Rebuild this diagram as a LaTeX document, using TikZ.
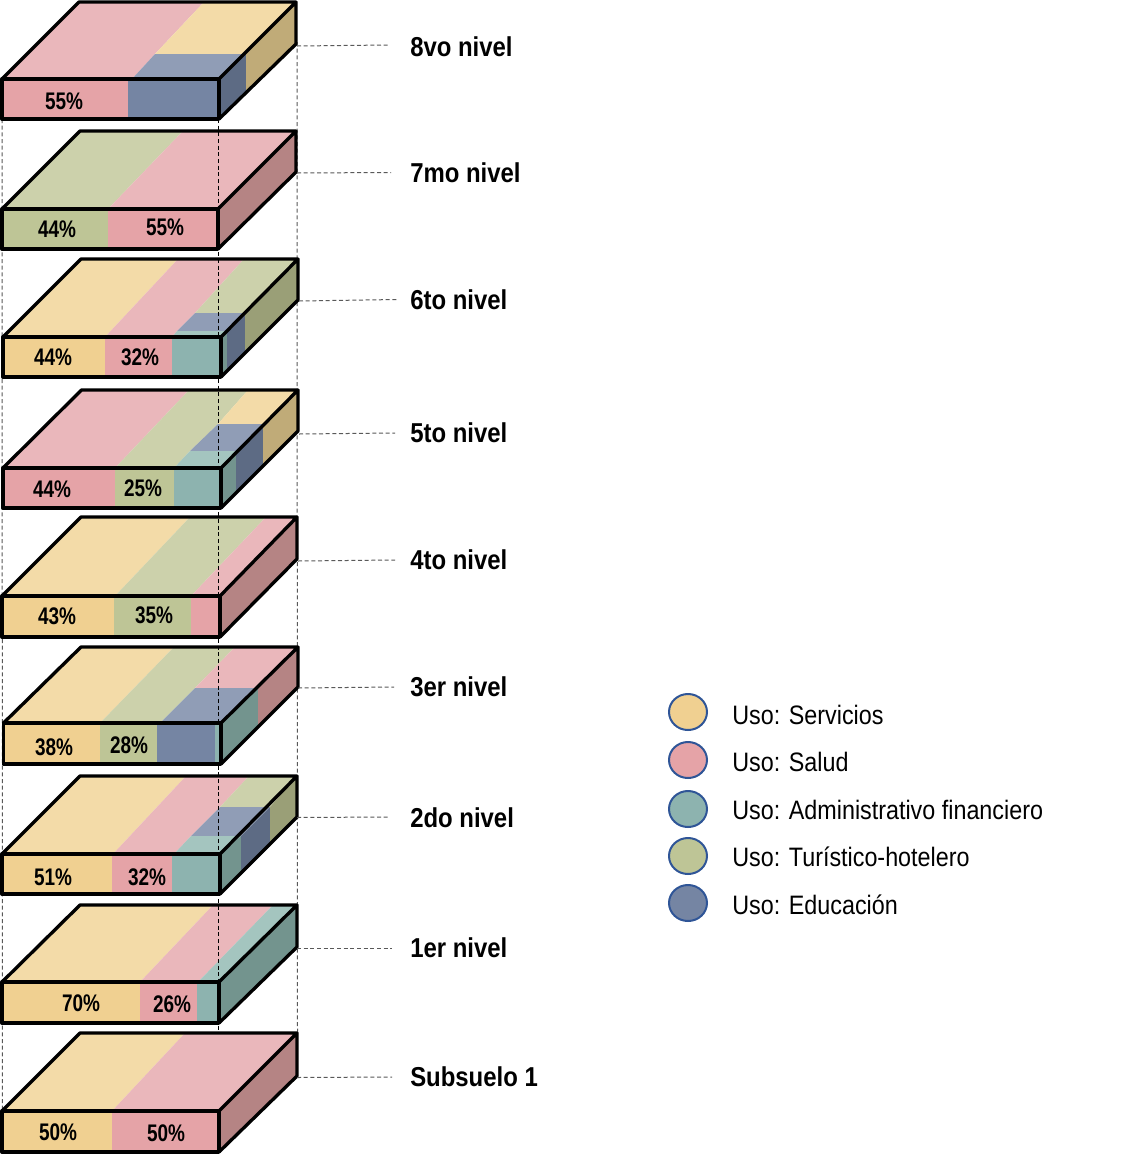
\documentclass[tikz,border=0pt]{standalone}
\usepackage{fontspec}
\setmainfont[FakeStretch=0.875]{Liberation Sans}
\newfontfamily\pctfont[FakeStretch=0.79]{Liberation Sans}
\definecolor{yF}{HTML}{F0D091}\definecolor{yT}{HTML}{F3DBA8}\definecolor{yS}{HTML}{C0AB78}
\definecolor{pF}{HTML}{E5A3A7}\definecolor{pT}{HTML}{EAB7BB}\definecolor{pS}{HTML}{B58484}
\definecolor{tF}{HTML}{8DB3AF}\definecolor{tT}{HTML}{A4C5BF}\definecolor{tS}{HTML}{73948E}
\definecolor{gF}{HTML}{BEC596}\definecolor{gT}{HTML}{CCD1AB}\definecolor{gS}{HTML}{9A9F77}
\definecolor{bF}{HTML}{7585A3}\definecolor{bT}{HTML}{909DB6}\definecolor{bS}{HTML}{5D6B84}
\definecolor{ringc}{HTML}{2F5597}
\tikzset{
  outl/.style={draw=black,line width=2.5pt,line join=round},
  guide/.style={draw=black!65,line width=0.75pt,dash pattern=on 3pt off 2pt},
  guidek/.style={draw=black,line width=0.75pt,dash pattern=on 3pt off 2pt},
  pct/.style={font=\fontsize{18pt}{20pt}\selectfont\pctfont\bfseries,inner sep=0pt},
  lvl/.style={font=\fontsize{20.5pt}{23pt}\selectfont\bfseries,inner sep=0pt,anchor=west},
  usetxt/.style={font=\fontsize{20pt}{23pt}\selectfont,inner sep=0pt,anchor=west},
  swatch/.style={ellipse,draw=ringc,line width=1.5pt,minimum width=28.5pt,minimum height=27pt,inner sep=0pt}
}
\usetikzlibrary{shapes.geometric}
% polygon fill
\newcommand{\pf}[2]{\fill[#1] #2 -- cycle;}
% outline of top and side: l r ft fb bl br bt sb
\newcommand{\topout}[8]{\draw[outl] (#1,#3) -- (#5,#7) -- (#6,#7) -- (#2,#3) (#6,#7) -- (#6,#8) -- (#2,#4);}
\newcommand{\frontout}[4]{\draw[outl] (#1,#3) rectangle (#2,#4);}
\begin{document}
\begin{tikzpicture}[x=0.75pt,y=-0.75pt]
\useasboundingbox (0,0) rectangle (1139,1161);
\fill[white] (0,0) rectangle (1139,1161);
% rear guides
\coordinate (gla) at (2,119); \coordinate (glb) at (2.5,1111);
\coordinate (gra) at (297,42); \coordinate (grb) at (297.5,1033);
\draw[guide] (gla) -- (glb);
\draw[guide] (gra) -- (grb);
% --- tops and sides ---
% 8vo
\pf{pT}{(2,79) -- (79,2) -- (204,2) -- (155,54) -- (132,79)}
\pf{yT}{(155,54) -- (204,2) -- (296,2) -- (243,54)}
\pf{bT}{(132,79) -- (155,54) -- (243,54) -- (219,79)}
\pf{bS}{(219,79) -- (246,52) -- (246,92) -- (219,119)}
\pf{yS}{(246,52) -- (296,2) -- (296,44) -- (246,92)}
\topout{2}{219}{79}{119}{79}{296}{2}{44}
% 7mo
\pf{gT}{(2,209) -- (80,131) -- (183,131) -- (108,209)}
\pf{pT}{(108,209) -- (183,131) -- (296,131) -- (218,209)}
\pf{pS}{(218,209) -- (296,131) -- (296,172) -- (218,249)}
\topout{2}{218}{209}{249}{80}{296}{131}{172}
% 6to
\pf{yT}{(3,337) -- (81,259) -- (178,259) -- (105,337)}
\pf{pT}{(105,337) -- (178,259) -- (244,259) -- (195,313) -- (177,331) -- (172,337)}
\pf{gT}{(195,313) -- (244,259) -- (298,259) -- (245,313)}
\pf{bT}{(177,331) -- (195,313) -- (245,313) -- (227,331)}
\pf{tT}{(172,337) -- (177,331) -- (227,331) -- (221,337)}
\pf{tS}{(221,337) -- (227,331) -- (227,371) -- (221,377)}
\pf{bS}{(227,331) -- (245,313) -- (245,353) -- (227,371)}
\pf{gS}{(245,313) -- (298,259) -- (298,300) -- (245,353)}
\topout{3}{221}{337}{377}{81}{298}{259}{300}
% 5to
\pf{pT}{(3,468) -- (81.5,390) -- (189,390) -- (115,468)}
\pf{gT}{(115,468) -- (189,390) -- (248,390) -- (218,424) -- (190,451) -- (174,468)}
\pf{yT}{(218,424) -- (248,390) -- (298,390) -- (263,424)}
\pf{bT}{(190,451) -- (218,424) -- (263,424) -- (236,451)}
\pf{tT}{(174,468) -- (190,451) -- (236,451) -- (221,468)}
\pf{tS}{(221,468) -- (236,451) -- (236,492) -- (221,508)}
\pf{bS}{(236,451) -- (263,424) -- (263,465) -- (236,492)}
\pf{yS}{(263,424) -- (298,390) -- (298,431) -- (263,465)}
\topout{3}{221}{468}{508}{81.5}{298}{390}{431}
% 4to
\pf{yT}{(2,596) -- (81,517) -- (190,517) -- (115,596)}
\pf{gT}{(115,596) -- (190,517) -- (266,517) -- (191,596)}
\pf{pT}{(191,596) -- (266,517) -- (297,517) -- (220,596)}
\pf{pS}{(220,596) -- (297,517) -- (297,559) -- (220,637)}
\topout{2}{220}{596}{637}{81}{297}{517}{559}
% 3er
\pf{yT}{(3.5,723) -- (81,647) -- (174,647) -- (100,723)}
\pf{gT}{(100,723) -- (174,647) -- (235,647) -- (195,688) -- (160,723)}
\pf{pT}{(195,688) -- (235,647) -- (298,647) -- (258,688)}
\pf{bT}{(160,723) -- (195,688) -- (258,688) -- (221,723)}
\pf{tS}{(221,723) -- (258,688) -- (258,727) -- (221,764)}
\pf{pS}{(258,688) -- (298,647) -- (298,687) -- (258,727)}
\topout{3.5}{221}{723}{764}{81}{298}{647}{687}
% 2do
\pf{yT}{(2,854) -- (80,776) -- (186,776) -- (113,854)}
\pf{pT}{(113,854) -- (186,776) -- (249,776) -- (220,807) -- (191,836) -- (174,854)}
\pf{gT}{(220,807) -- (249,776) -- (297,776) -- (270,807)}
\pf{bT}{(191,836) -- (220,807) -- (270,807) -- (241,836)}
\pf{tT}{(174,854) -- (191,836) -- (241,836) -- (220,854)}
\pf{tS}{(220,854) -- (241,836) -- (241,875) -- (220,894)}
\pf{bS}{(241,836) -- (270,807) -- (270,846) -- (241,875)}
\pf{gS}{(270,807) -- (297,776) -- (297,817) -- (270,846)}
\topout{2}{220}{854}{894}{80}{297}{776}{817}
% 1er
\pf{yT}{(2,982) -- (80,905) -- (213,905) -- (140,982)}
\pf{pT}{(140,982) -- (213,905) -- (273,905) -- (198,982)}
\pf{tT}{(198,982) -- (273,905) -- (297,905) -- (219,982)}
\pf{tS}{(219,982) -- (297,905) -- (297,947) -- (219,1023)}
\topout{2}{219}{982}{1023}{80}{297}{905}{947}
% Subsuelo
\pf{yT}{(2,1111) -- (80,1033) -- (185,1033) -- (112,1111)}
\pf{pT}{(112,1111) -- (185,1033) -- (297,1033) -- (219,1111)}
\pf{pS}{(219,1111) -- (297,1033) -- (297,1076) -- (219,1152)}
\topout{2}{219}{1111}{1152}{80}{297}{1033}{1076}
% guide over the top faces
\coordinate (gma) at (218.5,119); \coordinate (gmb) at (218.5,1033);
\draw[guidek] (gma) -- (gmb);
% --- fronts ---
\pf{pF}{(2,79) -- (128,79) -- (128,119) -- (2,119)}
\pf{bF}{(128,79) -- (219,79) -- (219,119) -- (128,119)}
\frontout{2}{219}{79}{119}
\pf{gF}{(2,209) -- (108,209) -- (108,249) -- (2,249)}
\pf{pF}{(108,209) -- (218,209) -- (218,249) -- (108,249)}
\frontout{2}{218}{209}{249}
\pf{yF}{(3,337) -- (105,337) -- (105,377) -- (3,377)}
\pf{pF}{(105,337) -- (172,337) -- (172,377) -- (105,377)}
\pf{tF}{(172,337) -- (221,337) -- (221,377) -- (172,377)}
\frontout{3}{221}{337}{377}
\pf{pF}{(3,468) -- (115,468) -- (115,508) -- (3,508)}
\pf{gF}{(115,468) -- (174,468) -- (174,508) -- (115,508)}
\pf{tF}{(174,468) -- (221,468) -- (221,508) -- (174,508)}
\frontout{3}{221}{468}{508}
\pf{yF}{(2,596) -- (114,596) -- (114,637) -- (2,637)}
\pf{gF}{(114,596) -- (190.5,596) -- (190.5,637) -- (114,637)}
\pf{pF}{(190.5,596) -- (220,596) -- (220,637) -- (190.5,637)}
\frontout{2}{220}{596}{637}
\pf{yF}{(3.5,723) -- (100,723) -- (100,764) -- (3.5,764)}
\pf{gF}{(100,723) -- (157,723) -- (157,764) -- (100,764)}
\pf{bF}{(157,723) -- (215,723) -- (215,764) -- (157,764)}
\pf{tF}{(215,723) -- (221,723) -- (221,764) -- (215,764)}
\frontout{3.5}{221}{723}{764}
\pf{yF}{(2,854) -- (112,854) -- (112,894) -- (2,894)}
\pf{pF}{(112,854) -- (172,854) -- (172,894) -- (112,894)}
\pf{tF}{(172,854) -- (220,854) -- (220,894) -- (172,894)}
\frontout{2}{220}{854}{894}
\pf{yF}{(2,982) -- (140,982) -- (140,1023) -- (2,1023)}
\pf{pF}{(140,982) -- (197,982) -- (197,1023) -- (140,1023)}
\pf{tF}{(197,982) -- (219,982) -- (219,1023) -- (197,1023)}
\frontout{2}{219}{982}{1023}
\pf{yF}{(2,1111) -- (112,1111) -- (112,1152) -- (2,1152)}
\pf{pF}{(112,1111) -- (219,1111) -- (219,1152) -- (112,1152)}
\frontout{2}{219}{1111}{1152}
% --- percentages ---
\node[pct] (p8a) at (64,101) {55\%};
\node[pct] (p7a) at (57,229) {44\%};
\node[pct] (p7b) at (165,227) {55\%};
\node[pct] (p6a) at (53,357) {44\%};
\node[pct] (p6b) at (140,357) {32\%};
\node[pct] (p5a) at (52,489) {44\%};
\node[pct] (p5b) at (143,488) {25\%};
\node[pct] (p4a) at (57,616) {43\%};
\node[pct] (p4b) at (154,615) {35\%};
\node[pct] (p3a) at (54,747) {38\%};
\node[pct] (p3b) at (129,745) {28\%};
\node[pct] (p2a) at (53,877) {51\%};
\node[pct] (p2b) at (147,877) {32\%};
\node[pct] (p1a) at (81,1003) {70\%};
\node[pct] (p1b) at (172,1004) {26\%};
\node[pct] (p0a) at (58,1132) {50\%};
\node[pct] (p0b) at (166,1133) {50\%};
% --- level labels and leaders ---
\node[lvl] (l8) at (410,47) {8vo nivel};
\node[lvl] (l7) at (410,173) {7mo nivel};
\node[lvl] (l6) at (410,300) {6to nivel};
\node[lvl] (l5) at (410,433) {5to nivel};
\node[lvl] (l4) at (410,560) {4to nivel};
\node[lvl] (l3) at (410,687) {3er nivel};
\node[lvl] (l2) at (410,818) {2do nivel};
\node[lvl] (l1) at (410,948) {1er nivel};
\node[lvl] (l0) at (410,1077) {Subsuelo 1};
\coordinate (s8) at (297,46);   \coordinate (e8) at (388,45);
\coordinate (s7) at (297,173);  \coordinate (e7) at (391,172.5);
\coordinate (s6) at (299,301);  \coordinate (e6) at (397,299.5);
\coordinate (s5) at (299,434);  \coordinate (e5) at (395,433);
\coordinate (s4) at (298,561);  \coordinate (e4) at (395,560);
\coordinate (s3) at (298,688);  \coordinate (e3) at (394,687);
\coordinate (s2) at (297,817.5);\coordinate (e2) at (389,817);
\coordinate (s1) at (297,948);  \coordinate (e1) at (392,948);
\coordinate (s0) at (297,1077.5);\coordinate (e0) at (392,1077);
\draw[guide] (s8) -- (e8);
\draw[guide] (s7) -- (e7);
\draw[guide] (s6) -- (e6);
\draw[guide] (s5) -- (e5);
\draw[guide] (s4) -- (e4);
\draw[guide] (s3) -- (e3);
\draw[guide] (s2) -- (e2);
\draw[guide] (s1) -- (e1);
\draw[guide] (s0) -- (e0);
% --- legend ---
\node[swatch,fill=yF] (k1) at (688,712) {};
\node[swatch,fill=pF] (k2) at (688,760) {};
\node[swatch,fill=tF] (k3) at (688,809) {};
\node[swatch,fill=gF] (k4) at (688,856) {};
\node[swatch,fill=bF] (k5) at (688,903) {};
\node[usetxt] (u1) at (732,715) {Uso: Servicios};
\node[usetxt] (u2) at (732,762) {Uso: Salud};
\node[usetxt] (u3) at (732,810) {Uso: Administrativo financiero};
\node[usetxt] (u4) at (732,857) {Uso: Turístico-hotelero};
\node[usetxt] (u5) at (732,905) {Uso: Educación};
\end{tikzpicture}
\end{document}
